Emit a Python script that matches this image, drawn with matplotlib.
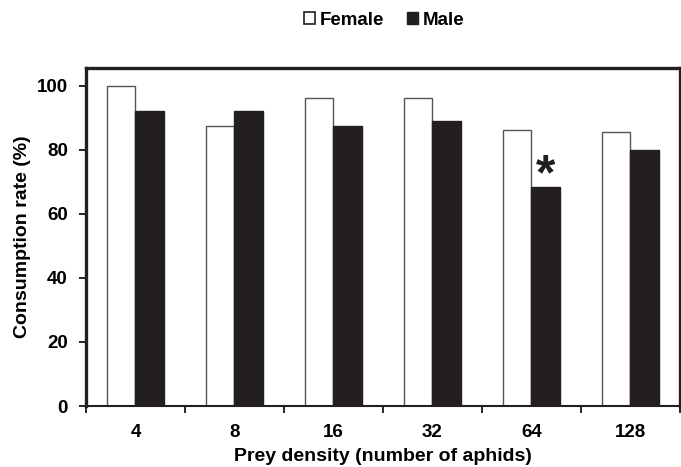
import matplotlib
matplotlib.use('Agg')
import matplotlib.pyplot as plt
import numpy as np
from matplotlib.patches import Patch

plt.rcParams['font.family'] = ['Liberation Sans', 'DejaVu Sans']
plt.rcParams['font.weight'] = 'bold'

densities = ['4', '8', '16', '32', '64', '128']
female = [100, 87.5, 96, 96, 86, 85.5]
male = [92, 92, 87.5, 89, 68.3, 80]

fig = plt.figure(figsize=(6.81, 4.67), dpi=100)
ax = fig.add_axes([0.1263, 0.1306, 0.872, 0.7238])

x = np.arange(len(densities))
w = 0.29
ax.bar(x - w / 2, female, w, color='white', edgecolor='#555555', linewidth=1.0, label='Female')
ax.bar(x + w / 2, male, w, color='#231f20', edgecolor='#231f20', linewidth=1.0, label='Male')

# significance mark for 64 aphids
ax.text(x[4] + w / 2, male[4] + 3.3, '*', ha='center', va='center', fontsize=36,
        fontweight='bold', color='#231f20')

ax.set_xlim(-0.5, len(densities) - 0.5)
ax.set_ylim(0, 105.5)
ax.set_yticks([0, 20, 40, 60, 80, 100])
ax.set_xticks(x)
ax.set_xticklabels(densities)
ax.set_xticks(np.arange(-0.5, len(densities)), minor=True)
ax.tick_params(axis='x', which='major', length=0, pad=13, labelsize=13.5)
ax.tick_params(axis='x', which='minor', length=5, width=1.2, direction='out')
ax.tick_params(axis='y', length=5, width=1.2, direction='out', labelsize=13.5, pad=8)

for side in ['top', 'left', 'right']:
    ax.spines[side].set_linewidth(2.4)
    ax.spines[side].set_color('#231f20')
ax.spines['bottom'].set_linewidth(1.5)
ax.spines['bottom'].set_color('#231f20')

ax.set_xlabel('Prey density (number of aphids)', fontsize=14, fontweight='bold', labelpad=5)
ax.set_ylabel('Consumption rate (%)', fontsize=14, fontweight='bold', labelpad=4)

handles = [Patch(facecolor='white', edgecolor='#231f20', linewidth=1.2, label='Female'),
           Patch(facecolor='#231f20', edgecolor='#231f20', label='Male')]
fig.legend(handles=handles, loc='center', bbox_to_anchor=(0.564, 0.957), ncol=2, frameon=False,
           fontsize=13.5, handlelength=0.6, handleheight=0.6, handletextpad=0.25, columnspacing=1.2)

fig.savefig('out.png', dpi=100)
